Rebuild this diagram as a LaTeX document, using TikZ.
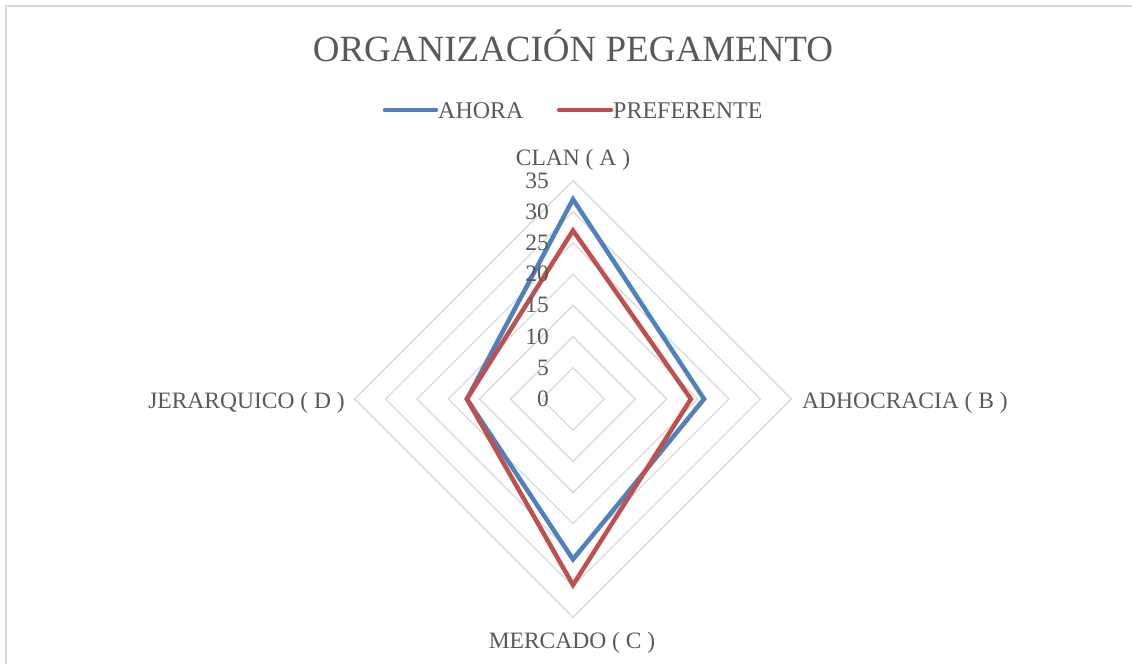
\documentclass[tikz,border=0pt]{standalone}
\usepackage{fontspec}
\setmainfont{Liberation Serif}
\usetikzlibrary{positioning}

\definecolor{ahoraBlue}{HTML}{4F81BD}
\definecolor{prefRed}{HTML}{C0504D}
\definecolor{gridGray}{HTML}{D9D9D9}
\definecolor{textGray}{HTML}{595959}

\tikzset{
  ring/.style={draw=gridGray, line width=1.3pt},
  serie/.style={line width=4.5pt, line join=miter},
  label/.style={text=textGray, inner sep=0pt, anchor=base,
    font=\fontsize{23.5}{28}\selectfont},
}

\begin{document}
\begin{tikzpicture}[x=1pt,y=-1pt]
\useasboundingbox (0,0) rectangle (1132,664);
\draw [gridGray, line width=1.5pt] (6,664) -- (6,6) -- (1132,6);

\node [label, font=\fontsize{37}{42}\selectfont] (title) at (573,61) {ORGANIZACIÓN PEGAMENTO};

% legend
\draw [ahoraBlue, line width=4.5pt, line cap=round] (385,110) -- (436,110);
\node [label, anchor=base west, font=\fontsize{24}{28}\selectfont] (ahora) at (438,118) {AHORA};
\draw [prefRed, line width=4.5pt, line cap=round] (559,110) -- (611,110);
\node [label, anchor=base west, font=\fontsize{24}{28}\selectfont] (pref) at (613,118) {PREFERENTE};

\begin{scope}[shift={(573,399)}]
\def\u{6.24}
\foreach \r in {5,10,...,35}
  \draw [ring] (0,-\r*\u) -- (\r*\u,0) -- (0,\r*\u) -- (-\r*\u,0) -- cycle;

\draw [serie, ahoraBlue] (0,-32*\u) -- (21*\u,0) -- (0,25.7*\u) -- (-17*\u,0) -- cycle;
\draw [serie, prefRed]   (0,-27*\u) -- (18.9*\u,0) -- (0,29.8*\u) -- (-17*\u,0) -- cycle;

\foreach \v in {0,5,...,35}
  \node [label, anchor=base east] (tick\v) at (-24,{-\v*\u+7.5}) {\v};
\end{scope}

\node [label] (clan) at (573,165) {CLAN ( A )};
\node [label, anchor=base west] (adho) at (802,408) {ADHOCRACIA ( B )};
\node [label] (merc) at (572,648) {MERCADO ( C )};
\node [label, anchor=base east] (jera) at (345,408) {JERARQUICO ( D )};
\end{tikzpicture}
\end{document}
